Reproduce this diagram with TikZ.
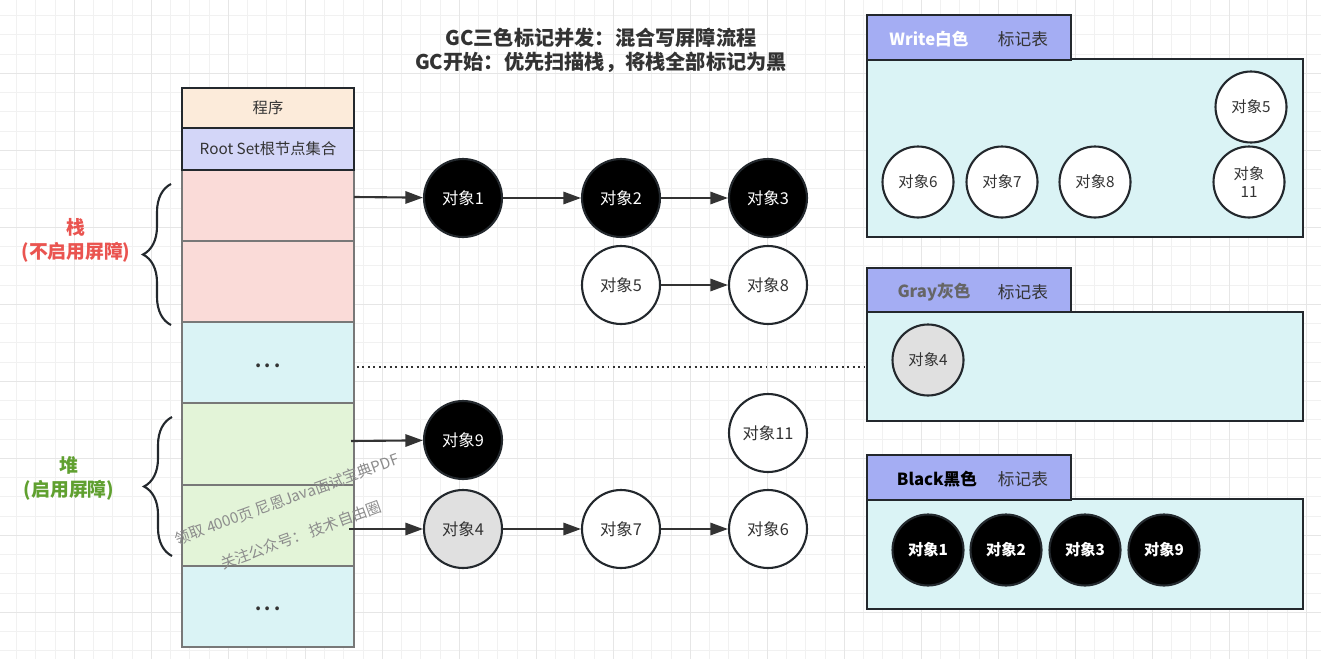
\documentclass[tikz,border=0pt]{standalone}
\usepackage{fontspec}
\setmainfont{Noto Sans CJK SC}
\usetikzlibrary{arrows.meta,decorations.pathreplacing}

\definecolor{linec}{RGB}{35,40,45}
\definecolor{arrowc}{RGB}{51,51,51}
\definecolor{textc}{RGB}{51,51,51}
\definecolor{pinkc}{RGB}{250,219,216}
\definecolor{cyanc}{RGB}{218,243,245}
\definecolor{greenc}{RGB}{227,244,216}
\definecolor{peachc}{RGB}{252,235,218}
\definecolor{lavc}{RGB}{211,214,248}
\definecolor{tabc}{RGB}{164,173,243}
\definecolor{objgray}{RGB}{224,224,224}
\definecolor{redc}{RGB}{234,84,80}
\definecolor{greenl}{RGB}{96,160,48}
\definecolor{gridc}{RGB}{241,241,241}
\definecolor{gridd}{RGB}{230,230,230}
\definecolor{cellline}{RGB}{120,120,120}

\tikzset{
  obj/.style={circle, draw=linec, line width=1.2pt, minimum size=1.56cm, inner sep=0pt,
    font=\fontsize{9.3}{11}\selectfont},
  blackobj/.style={obj, fill=black, text=white},
  whiteobj/.style={obj, fill=white, text=textc},
  grayobj/.style={obj, fill=objgray, text=textc},
  pobj/.style={obj, minimum size=1.42cm, font=\fontsize{8.7}{10.5}\selectfont, align=center},
  link/.style={-{Triangle[length=10pt,width=7pt]}, line width=1.2pt, draw=arrowc},
  cell/.style={draw=cellline, line width=0.7pt},
  thickcell/.style={draw=linec, line width=1.3pt},
  celltext/.style={text=textc, font=\fontsize{8.7}{10.5}\selectfont},
  bracedraw/.style={decorate, decoration={brace, amplitude=0.56cm}, line width=1.2pt, draw=linec},
  panel/.style={draw=linec, line width=1.4pt, fill=cyanc},
  tabbox/.style={draw=linec, line width=1.4pt, fill=tabc},
  tabtitle/.style={font=\bfseries\fontsize{9.5}{11}\selectfont},
  tabsub/.style={text=textc, font=\fontsize{9.5}{11}\selectfont},
  sidelabel/.style={align=center, font=\bfseries\fontsize{10.7}{13.6}\selectfont},
  wmtext/.style={text=black!45, font=\fontsize{8.6}{10}\selectfont, rotate=20}
}

\begin{document}
\begin{tikzpicture}[x=0.02cm,y=-0.02cm]
\useasboundingbox (0,0) rectangle (1321,659);
\fill[white] (0,0) rectangle (1321,659);

% background grid
\foreach \k in {0,...,68}
  \draw[gridc, line width=0.6pt] ({16.7+19.25*\k},0) -- ({16.7+19.25*\k},659);
\foreach \k in {0,...,33}
  \draw[gridc, line width=0.6pt] (0,{15.7+19.25*\k}) -- (1321,{15.7+19.25*\k});
\foreach \k in {3,7,...,67}
  \draw[gridd, line width=0.6pt] ({16.7+19.25*\k},0) -- ({16.7+19.25*\k},659);
\foreach \k in {3,7,...,31}
  \draw[gridd, line width=0.6pt] (0,{15.7+19.25*\k}) -- (1321,{15.7+19.25*\k});

% title
\node[align=center, text=textc, font=\bfseries\fontsize{11.5}{13.8}\selectfont] (title) at (601,50)
  {GC三色标记并发：混合写屏障流程\\GC开始：优先扫描栈，将栈全部标记为黑};

% stack and heap column
\draw[cell, fill=pinkc] (182,170) rectangle (354,241);
\draw[cell, fill=pinkc] (182,241) rectangle (354,322);
\draw[cell, fill=cyanc] (182,322) rectangle (354,403);
\draw[cell, fill=greenc] (182,403) rectangle (354,485);
\draw[cell, fill=greenc] (182,485) rectangle (354,566);
\draw[cell, fill=cyanc] (182,566) rectangle (354,647);
\draw[thickcell, fill=peachc] (182,88) rectangle (354,128);
\draw[thickcell, fill=lavc] (182,128) rectangle (354,170);
\node[celltext] (prog) at (268,108) {程序};
\node[celltext] (rootset) at (268,149) {Root Set根节点集合};
\node[celltext, font=\bfseries\fontsize{10}{12}\selectfont] (dots1) at (268,366) {.\,.\,.};
\node[celltext, font=\bfseries\fontsize{10}{12}\selectfont] (dots2) at (268,609) {.\,.\,.};

% braces and labels
\draw[bracedraw] (171,325) -- (171,184);
\draw[bracedraw] (172,556) -- (172,417);
\node[sidelabel, text=redc] (stacklbl) at (76,240) {栈\\(不启用屏障)};
\node[sidelabel, text=greenl] (heaplbl) at (69,478) {堆\\(启用屏障)};

% watermark
\node[wmtext] (wm1) at (287,499) {领取 4000页 尼恩Java面试宝典PDF};
\node[wmtext] (wm2) at (301,535) {关注公众号： 技术自由圈};

% objects
\node[blackobj] (o1) at (463,198) {对象1};
\node[blackobj] (o2) at (621,198) {对象2};
\node[blackobj] (o3) at (768,198) {对象3};
\node[whiteobj] (o5) at (621,285) {对象5};
\node[whiteobj] (o8) at (768,285) {对象8};
\node[blackobj] (o9) at (463,440) {对象9};
\node[whiteobj] (o11) at (768,433) {对象11};
\node[grayobj] (o4) at (463,529) {对象4};
\node[whiteobj] (o7) at (621,529) {对象7};
\node[whiteobj] (o6) at (768,529) {对象6};

\coordinate (s1) at (354,197);
\coordinate (h1) at (351,441);
\coordinate (h2) at (349,529);
\draw[link] (s1) -- (o1);
\draw[link] (o1) -- (o2);
\draw[link] (o2) -- (o3);
\draw[link] (o5) -- (o8);
\draw[link] (h1) -- (o9);
\draw[link] (h2) -- (o4);
\draw[link] (o4) -- (o7);
\draw[link] (o7) -- (o6);

% mark tables
\draw[panel] (867,59) rectangle (1303,237);
\draw[tabbox] (867,15) rectangle (1071,60);
\draw[panel] (867,312) rectangle (1303,421);
\draw[tabbox] (867,268) rectangle (1071,312);
\draw[panel] (867,499) rectangle (1303,609);
\draw[tabbox] (867,455) rectangle (1071,500);

\node[tabtitle, text=white] (wtitle) at (929,39) {Write白色};
\node[tabsub] (wsub) at (1023,39) {标记表};
\node[tabtitle, text=black!60] (gtitle) at (934,292) {Gray灰色};
\node[tabsub] (gsub) at (1023,292) {标记表};
\node[tabtitle, text=black] (btitle) at (937,479) {Black黑色};
\node[tabsub] (bsub) at (1023,479) {标记表};

\node[pobj, fill=white, text=textc] (w6) at (918,182) {对象6};
\node[pobj, fill=white, text=textc] (w7) at (1002,182) {对象7};
\node[pobj, fill=white, text=textc] (w8) at (1095,182) {对象8};
\node[pobj, fill=white, text=textc] (w11) at (1249,182) {对象\\11};
\node[pobj, fill=white, text=textc] (w5) at (1251,107) {对象5};
\node[pobj, fill=objgray, text=textc] (g4) at (928,360) {对象4};
\foreach \n/\x in {1/928,2/1006,3/1085,9/1164}
  \node[pobj, fill=black, text=white, font=\bfseries\fontsize{8.7}{10.5}\selectfont] (b\n) at (\x,550) {对象\n};

% dotted link to gray table
\coordinate (d1) at (357,367);
\coordinate (d2) at (866,367);
\draw[dotted, line width=1.1pt, draw=arrowc] (d1) -- (d2);
\end{tikzpicture}
\end{document}
